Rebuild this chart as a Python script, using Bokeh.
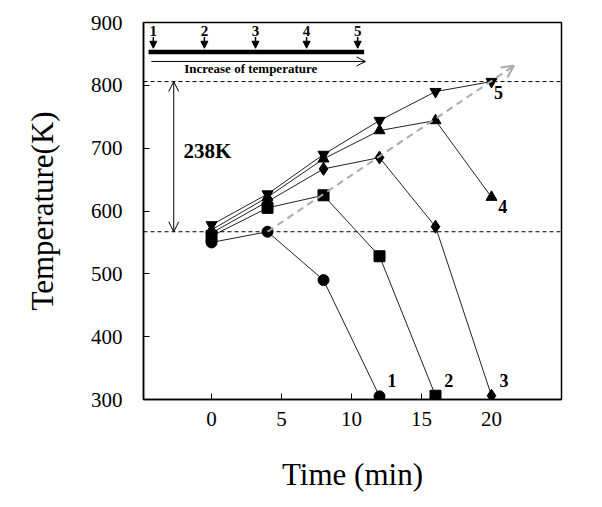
from bokeh.plotting import figure
from bokeh.models import Range1d, FixedTicker, Span, Arrow, OpenHead, NormalHead, Label
from bokeh.embed import file_html
from bokeh.resources import INLINE

# ---- data ----
time_1 = [0, 4, 8, 12]
temp_1 = [550, 567, 490, 305]
time_2 = [0, 4, 8, 12, 16]
temp_2 = [560, 605, 625, 528, 306]
time_3 = [0, 4, 8, 12, 16, 20]
temp_3 = [565, 615, 667, 685, 575, 306]
time_4 = [0, 4, 8, 12, 16, 20]
temp_4 = [570, 622, 683, 728, 744, 622]
time_5 = [0, 4, 8, 12, 16, 20]
temp_5 = [578, 627, 690, 744, 790, 806]
series_labels = ["1", "2", "3", "4", "5"]
ref_levels = [806, 567]          # dashed reference temperatures
delta_label = "238K"
x_ticks = [0, 5, 10, 15, 20]
y_ticks = [300, 400, 500, 600, 700, 800, 900]

SERIF = "Liberation Serif"

p = figure(width=594, height=499, output_backend="svg", toolbar_location=None,
           x_range=Range1d(-4.86, 25), y_range=Range1d(300, 900),
           min_border_left=143, min_border_right=33, min_border_top=22, min_border_bottom=100)
p.grid.visible = False
p.outline_line_color = "black"
p.outline_line_width = 1.5
p.background_fill_color = "white"

for ax in (p.xaxis[0], p.yaxis[0]):
    ax.major_tick_in = 6
    ax.major_tick_out = 0
    ax.minor_tick_line_color = None
    ax.axis_line_width = 1.5
    ax.major_tick_line_width = 1
    ax.major_label_text_font = SERIF
    ax.major_label_text_font_size = "21px"
    ax.major_label_text_color = "black"
    ax.axis_label_text_font = SERIF
    ax.axis_label_text_font_style = "normal"
    ax.axis_label_text_font_size = "31px"
    ax.axis_label_text_color = "black"

p.xaxis.ticker = FixedTicker(ticks=x_ticks)
p.yaxis.ticker = FixedTicker(ticks=y_ticks)
p.xaxis.axis_label = "Time (min)"
p.yaxis.axis_label = "Temperature(K)"
p.xaxis.major_label_standoff = 12
p.yaxis.major_label_standoff = 21
p.xaxis.axis_label_standoff = 28
p.yaxis.axis_label_standoff = 28

# dashed reference lines
for lvl in ref_levels:
    p.add_layout(Span(location=lvl, dimension="width", line_color="black",
                      line_dash="4 3", line_width=1))

# grey dashed trend arrow through the maxima
p.add_layout(Arrow(end=OpenHead(size=12, line_color="#aaaaaa", line_width=2),
                   x_start=time_1[1], y_start=temp_1[1], x_end=21.6, y_end=831,
                   line_color="#aaaaaa", line_width=2, line_dash="7 5"))

# series
series = [
    (time_1, temp_1, "circle", 11),
    (time_2, temp_2, "square", 11),
    (time_3, temp_3, "diamond", 13),
    (time_4, temp_4, "triangle", 11),
    (time_5, temp_5, "inverted_triangle", 11),
]
for xs, ys, mk, sz in series:
    p.line(xs, ys, line_color="#222222", line_width=1)
for xs, ys, mk, sz in series:
    p.scatter(xs, ys, marker=mk, size=sz, fill_color="black", line_color="black")

# series number labels
label_pos = [(12.9, 330), (16.95, 330), (20.9, 330), (20.8, 607), (20.5, 788)]
for txt, (lx, ly) in zip(series_labels, label_pos):
    p.add_layout(Label(x=lx, y=ly, text=txt, text_font=SERIF, text_font_style="bold",
                       text_font_size="18px", text_align="center", text_baseline="middle",
                       text_color="black"))

# 238K double arrow
p.add_layout(Arrow(start=OpenHead(size=10, line_width=1), end=OpenHead(size=10, line_width=1),
                   x_start=-2.7, y_start=ref_levels[1], x_end=-2.7, y_end=ref_levels[0],
                   line_width=1))
p.add_layout(Label(x=-2.0, y=695, text=delta_label, text_font=SERIF, text_font_style="bold",
                   text_font_size="21px", text_baseline="middle", text_color="black"))

# top annotation: step numbers, arrows, bar, increase arrow
step_x0, step_dx = -4.16, 3.65
for i, txt in enumerate(series_labels):
    sx = step_x0 + i * step_dx
    p.add_layout(Label(x=sx, y=887, text=txt, text_font=SERIF, text_font_style="bold",
                       text_font_size="15px", text_align="center", text_baseline="middle",
                       text_color="black"))
    p.add_layout(Arrow(end=NormalHead(size=7, fill_color="black", line_color="black"),
                       x_start=sx, y_start=877, x_end=sx, y_end=859, line_width=1.5))
p.line([-4.5, 10.9], [853, 853], line_color="black", line_width=4.5)
p.add_layout(Arrow(end=OpenHead(size=9, line_width=1), x_start=-4.3, y_start=838,
                   x_end=11.0, y_end=838, line_width=1))
p.add_layout(Label(x=2.8, y=827, text="Increase of temperature", text_font=SERIF,
                   text_font_style="bold", text_font_size="13px", text_align="center",
                   text_baseline="middle", text_color="black"))

open("out.html", "w").write(file_html(p, INLINE))
